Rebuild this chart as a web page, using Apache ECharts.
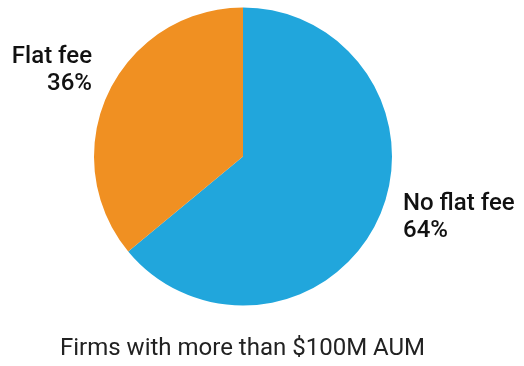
<!DOCTYPE html>
<html>
<head>
<meta charset="utf-8">
<script src="https://cdn.jsdelivr.net/npm/echarts@6/dist/echarts.min.js"></script>
<style>
  html, body { margin: 0; padding: 0; background: #fff; }
  #chart { width: 524px; height: 366px; }
</style>
</head>
<body>
<div id="chart"></div>
<script>
// Fee structure share among firms with more than $100M AUM
const categories = ['No flat fee', 'Flat fee'];
const shares = [64, 36];
const sliceColors = ['#21a6dc', '#f09022'];
const caption = 'Firms with more than $100M AUM';

// Where each slice label sits and how it is aligned
const labelSpots = {
  'No flat fee': { x: 403, y: 190, align: 'left' },
  'Flat fee': { x: 92, y: 43, align: 'right' }
};

const chart = echarts.init(document.getElementById('chart'), null, { renderer: 'canvas' });

chart.setOption({
  animation: false,
  title: {
    text: caption,
    left: 60,
    top: 337,
    padding: 0,
    textStyle: {
      fontFamily: 'Roboto',
      fontWeight: 'normal',
      fontSize: 24,
      lineHeight: 24,
      color: '#222'
    }
  },
  series: [{
    type: 'pie',
    center: [243, 156.5],
    radius: [0, 149],
    startAngle: 90,
    clockwise: true,
    silent: true,
    itemStyle: { borderWidth: 0 },
    label: {
      show: true,
      position: 'outside',
      formatter: p => p.name + '\n' + p.value + '%',
      fontFamily: 'Roboto',
      fontWeight: 500,
      fontSize: 24,
      lineHeight: 27.5,
      color: '#111',
      overflow: 'none',
      width: 200
    },
    labelLine: { show: false },
    labelLayout: params => {
      const spot = labelSpots[categories[params.dataIndex]];
      return { x: spot.x, y: spot.y, align: spot.align, verticalAlign: 'top' };
    },
    data: categories.map((name, i) => ({
      name,
      value: shares[i],
      itemStyle: { color: sliceColors[i] },
      label: { align: labelSpots[name].align }
    }))
  }]
});
</script>
</body>
</html>
